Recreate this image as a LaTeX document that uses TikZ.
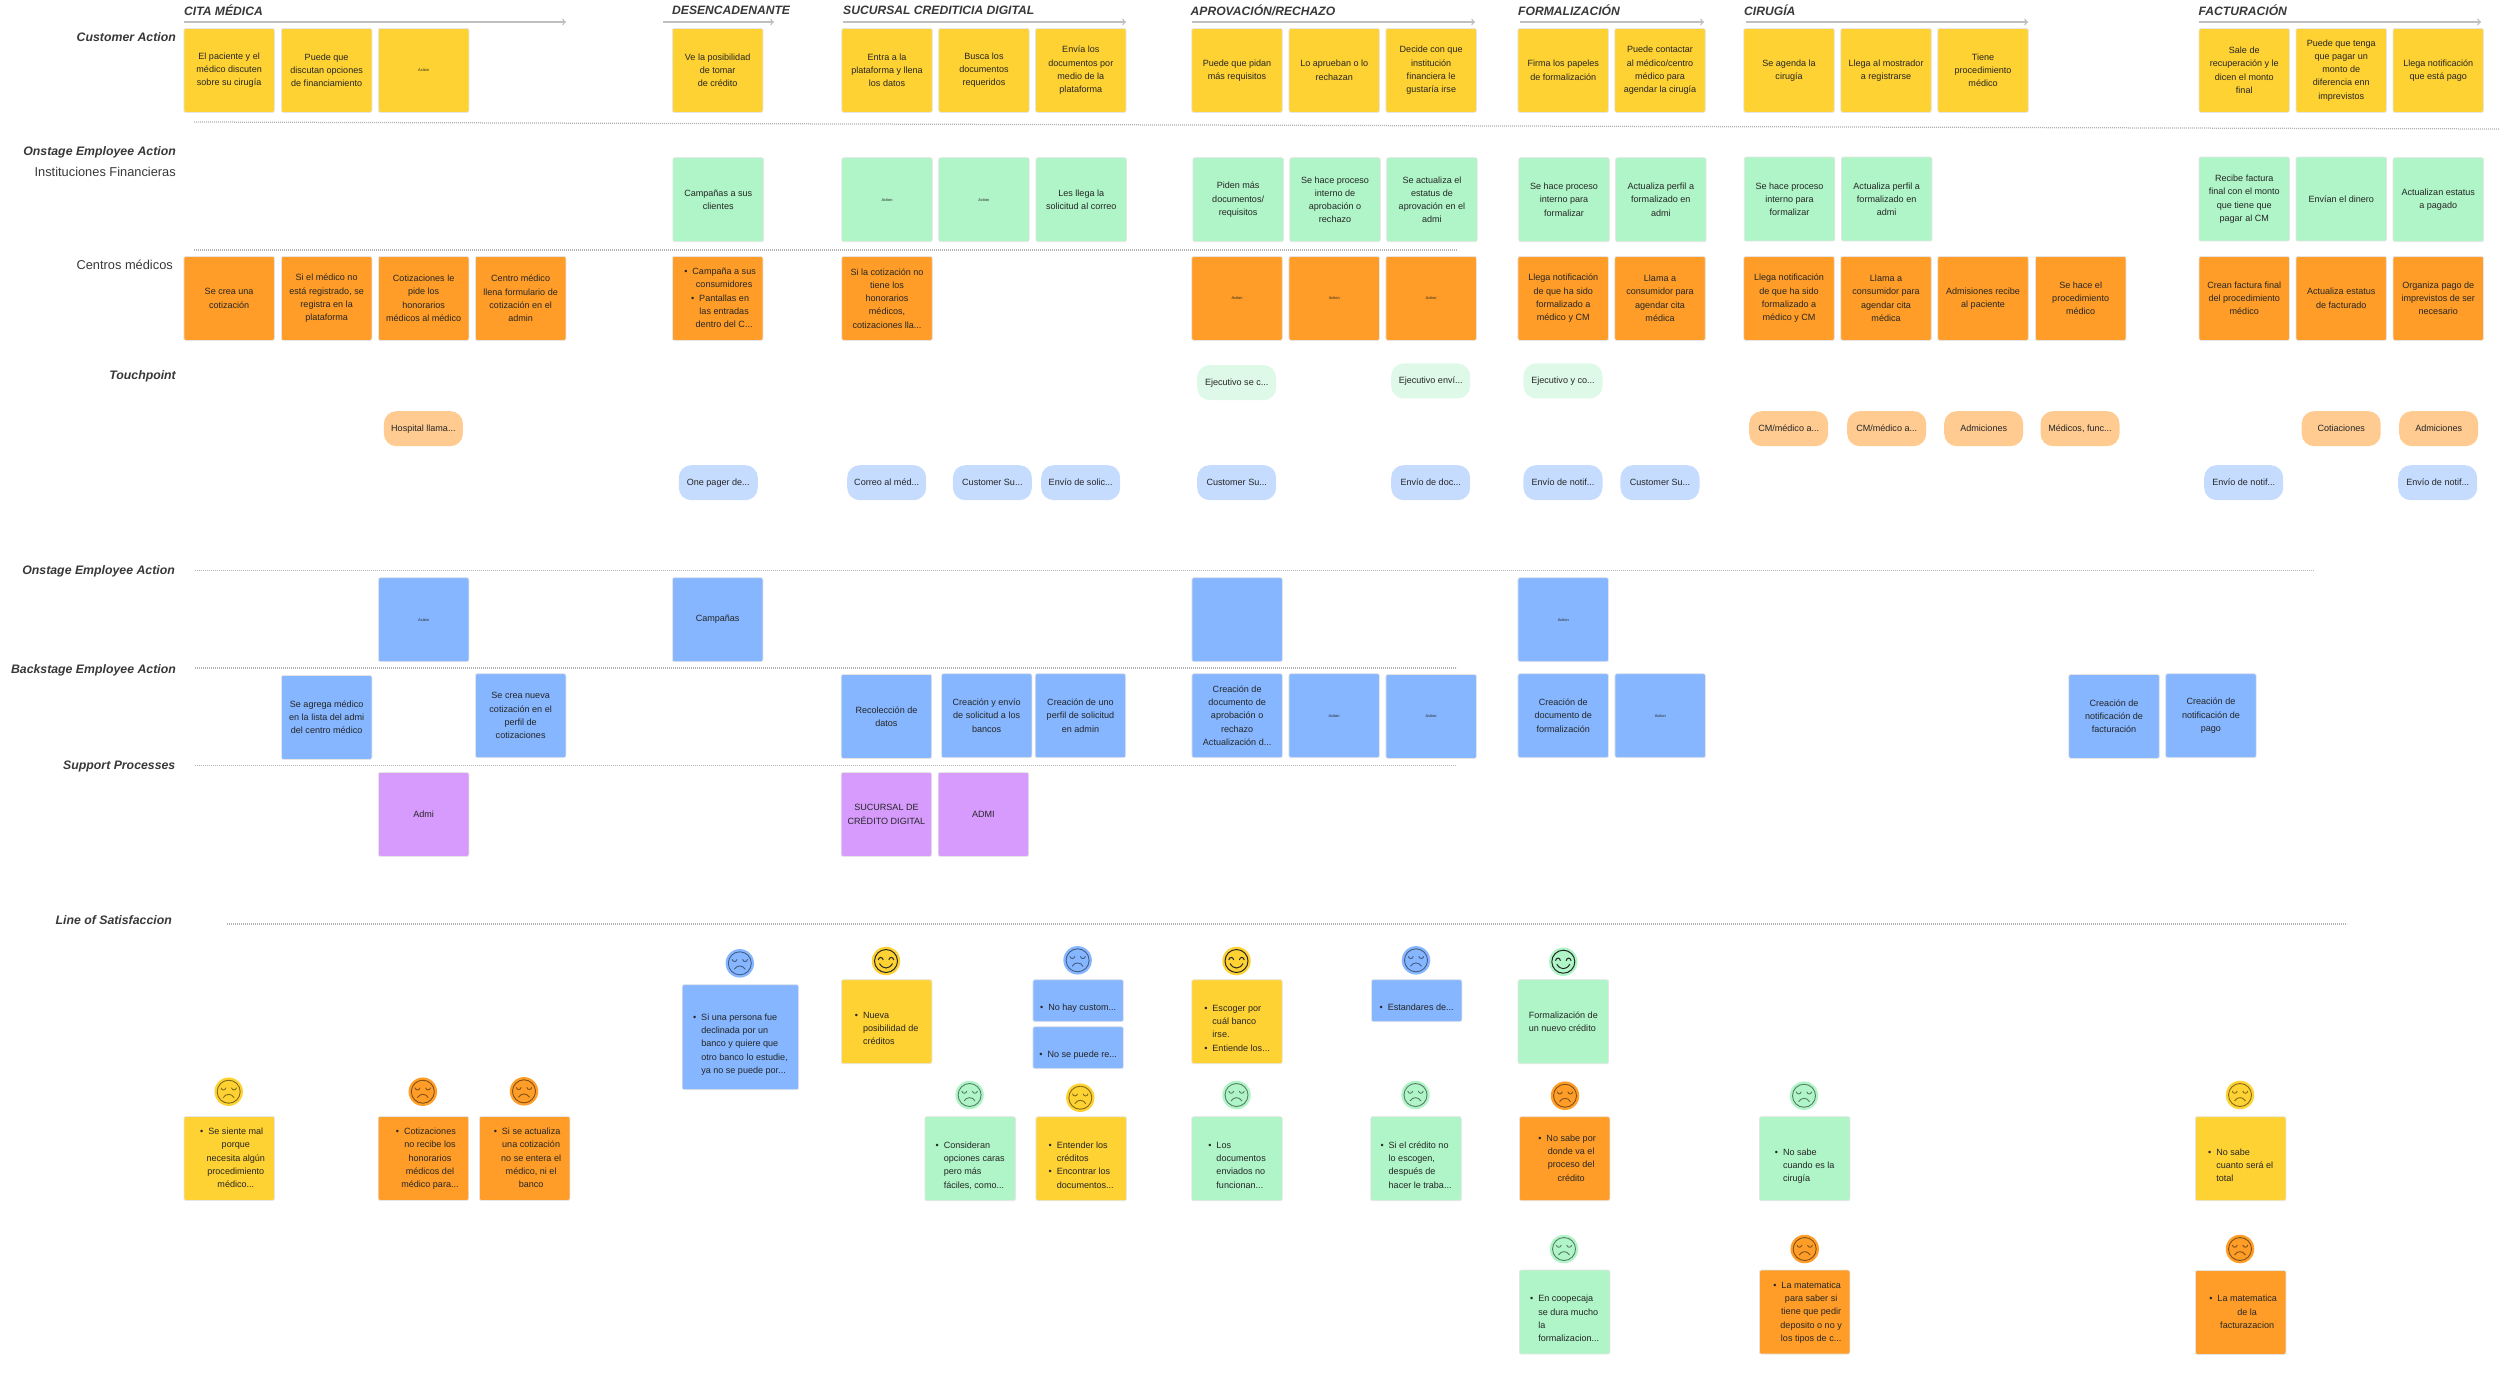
\documentclass[tikz,border=0pt]{standalone}
\usepackage{fontspec}
\setmainfont{Liberation Sans}
\usepackage{tikz}

\definecolor{ycol}{HTML}{FFD233}
\definecolor{ocol}{HTML}{FF9D28}
\definecolor{gcol}{HTML}{AFF5C7}
\definecolor{bcol}{HTML}{85B6FF}
\definecolor{pcol}{HTML}{D69BFC}
\definecolor{opil}{HTML}{FFCB91}
\definecolor{bpil}{HTML}{C6DCFF}
\definecolor{gpil}{HTML}{DEF9E7}

\newcommand{\cardfont}{\fontsize{10.3}{15.1}\selectfont}
\newcommand{\blt}{\llap{\textbullet\hspace{0.2cm}}}
\newcommand{\bulmid}[1]{\hspace*{0.52cm}\begin{tabular}{@{}c@{}}#1\end{tabular}}
\newcommand{\bulleft}[1]{\raisebox{-0.28cm}[\height][\depth]{\begin{tabular}{@{}l@{\hspace{0.2cm}}l@{}}#1\end{tabular}}}
\newcommand{\sadface}[4]{
  \node[face, fill=#4] (#1) at (#2,#3) {};
  \begin{scope}[shift={(#2,#3)}, draw=#4!50!black, line width=0.035cm]
    \draw (0,0) circle (0.46cm);
    \draw (-7.8,-4) .. controls (-7,-1) and (-3.5,-1) .. (-2.8,-4);
    \draw (2.8,-4) .. controls (3.5,-1) and (7,-1) .. (7.8,-4);
    \draw (-5.5,6) .. controls (-3,1.5) and (3,1.5) .. (5.5,6);
  \end{scope}}
\newcommand{\happyface}[4]{
  \node[face, fill=#4] (#1) at (#2,#3) {};
  \begin{scope}[shift={(#2,#3)}, draw=black!85, line width=0.04cm]
    \draw (0,0) circle (0.46cm);
    \draw (-7.8,-1) .. controls (-7,-4.5) and (-3.5,-4.5) .. (-2.8,-1);
    \draw (2.8,-1) .. controls (3.5,-4.5) and (7,-4.5) .. (7.8,-1);
    \draw (-6.5,2.5) .. controls (-3,8.5) and (3,8.5) .. (6.5,2.5);
  \end{scope}}

\tikzset{
  card/.style={anchor=north west, minimum width=3.62cm, minimum height=3.36cm, inner sep=0pt,
    rounded corners=0.08cm, draw=black!10, line width=0.03cm, align=center, text=black!85, font=\cardfont},
  ycard/.style={card, fill=ycol},
  ocard/.style={card, fill=ocol},
  gcard/.style={card, fill=gcol},
  bcard/.style={card, fill=bcol},
  pcard/.style={card, fill=pcol},
  short/.style={minimum height=1.68cm},
  action/.style={font={\fontsize{4.5}{5}\selectfont}},
  pill/.style={anchor=north west, minimum width=3.16cm, minimum height=1.4cm, inner sep=0pt,
    rounded corners=0.5cm, text=black!85, font=\cardfont},
  opill/.style={pill, fill=opil},
  bpill/.style={pill, fill=bpil},
  gpill/.style={pill, fill=gpil},
  face/.style={circle, minimum size=1.14cm, inner sep=0pt},
  rowlabel/.style={anchor=east, inner sep=0pt, text=black!78, font={\fontsize{14}{16}\selectfont\bfseries\itshape}},
  plainlabel/.style={anchor=east, inner sep=0pt, text=black!78, font={\fontsize{14.6}{16}\selectfont}},
  phase/.style={anchor=west, inner sep=0pt, text=black!78, font={\fontsize{13.8}{16}\selectfont\bfseries\itshape}},
  rowline/.style={draw=black!30, line width=0.05cm, dash pattern=on 0.04cm off 0.04cm},
  flow/.style={draw=black!25, line width=0.06cm, ->}
}

\begin{document}
\begin{tikzpicture}[x=0.04cm, y=-0.04cm]
  % one unit = one pixel of the 2500 x 1372 board
  \useasboundingbox (0,0) rectangle (2500,1372);

  % phases
  \node[phase] (pcita) at (184,10) {CITA MÉDICA};
  \node[phase] (pdes) at (672,10) {DESENCADENANTE};
  \node[phase] (psuc) at (843,10) {SUCURSAL CREDITICIA DIGITAL};
  \node[phase] (papr) at (1190.5,10) {APROVACIÓN/RECHAZO};
  \node[phase] (pfor) at (1518,10) {FORMALIZACIÓN};
  \node[phase] (pcir) at (1744,10) {CIRUGÍA};
  \node[phase] (pfac) at (2198.5,10) {FACTURACIÓN};
  \coordinate (fa1) at (183.5,22); \coordinate (fb1) at (566,22);
  \coordinate (fa2) at (663,22); \coordinate (fb2) at (774,22);
  \coordinate (fa3) at (842.5,22); \coordinate (fb3) at (1126,22);
  \coordinate (fa4) at (1192,22); \coordinate (fb4) at (1475,22);
  \coordinate (fa5) at (1519.5,22); \coordinate (fb5) at (1704,22);
  \coordinate (fa6) at (1746,22); \coordinate (fb6) at (2028,22);
  \coordinate (fa7) at (2198.5,22); \coordinate (fb7) at (2481,22);
  \foreach \n in {1,...,7} \draw[flow] (fa\n) -- (fb\n);

  % row labels
  \node[rowlabel] (lcust) at (176,37) {Customer Action};
  \node[rowlabel] (lon) at (176,152.5) {Onstage Employee Action};
  \node[plainlabel] (lfin) at (176,172) {Instituciones Financieras};
  \node[plainlabel] (lcen) at (173,265) {Centros médicos};
  \node[rowlabel] (ltou) at (176,376.5) {Touchpoint};
  \node[rowlabel] (lon2) at (175,571.5) {Onstage Employee Action};
  \node[rowlabel] (lback) at (176,670.5) {Backstage Employee Action};
  \node[rowlabel] (lsup) at (175.5,766.5) {Support Processes};
  \node[rowlabel] (lsat) at (172,920.5) {Line of Satisfaccion};

  % row lines
  \coordinate (la1) at (194,122); \coordinate (lb1) at (2500,129);
  \coordinate (la2) at (194,250); \coordinate (lb2) at (1457,250);
  \coordinate (la3) at (195,570.5); \coordinate (lb3) at (2314,570.5);
  \coordinate (la4) at (195,668); \coordinate (lb4) at (1457,668);
  \coordinate (la5) at (195,765.5); \coordinate (lb5) at (1457,765.5);
  \coordinate (la6) at (227,924); \coordinate (lb6) at (2347,924);
  \foreach \n in {1,...,6} \draw[rowline] (la\n) -- (lb\n);

  % customer action
  \node[ycard] (cust1) at (183.5,28) {El paciente y el\\médico discuten\\sobre su cirugía};
  \node[ycard] (cust2) at (281,28) {Puede que\\discutan opciones\\de financiamiento};
  \node[ycard, action] (cust3) at (378,28) {Action};
  \node[ycard] (cust4) at (672,28) {Ve la posibilidad\\de tomar\\de crédito};
  \node[ycard] (cust5) at (841.4,28) {Entra a la\\plataforma y llena\\los datos};
  \node[ycard] (cust6) at (938.3,28) {Busca los\\documentos\\requeridos};
  \node[ycard] (cust7) at (1035.2,28) {Envía los\\documentos por\\medio de la\\plataforma};
  \node[ycard] (cust8) at (1191.4,28) {Puede que pidan\\más requisitos};
  \node[ycard] (cust9) at (1288.6,28) {Lo aprueban o lo\\rechazan};
  \node[ycard] (cust10) at (1385.5,28) {Decide con que\\institución\\financiera le\\gustaría irse};
  \node[ycard] (cust11) at (1517.6,28) {Firma los papeles\\de formalización};
  \node[ycard] (cust12) at (1614.4,28) {Puede contactar\\al médico/centro\\médico para\\agendar la cirugía};
  \node[ycard] (cust13) at (1743.4,28) {Se agenda la\\cirugía};
  \node[ycard] (cust14) at (1840.4,28) {Llega al mostrador\\a registrarse};
  \node[ycard] (cust15) at (1937.4,28) {Tiene\\procedimiento\\médico};
  \node[ycard] (cust16) at (2198.6,28) {Sale de\\recuperación y le\\dicen el monto\\final};
  \node[ycard] (cust17) at (2295.6,28) {Puede que tenga\\que pagar un\\monto de\\diferencia enn\\imprevistos};
  \node[ycard] (cust18) at (2392.6,28) {Llega notificación\\que está pago};

  % instituciones financieras
  \node[gcard] (fin1) at (672.6,157.3) {Campañas a sus\\clientes};
  \node[gcard, action] (fin2) at (841.4,157.3) {Action};
  \node[gcard, action] (fin3) at (938.3,157.3) {Action};
  \node[gcard] (fin4) at (1035.6,157.3) {Les llega la\\solicitud al correo};
  \node[gcard] (fin5) at (1192.5,157.3) {Piden más\\documentos/\\requisitos};
  \node[gcard] (fin6) at (1289.4,157.3) {Se hace proceso\\interno de\\aprobación o\\rechazo};
  \node[gcard] (fin7) at (1386.3,157.3) {Se actualiza el\\estatus de\\aprovación en el\\admi};
  \node[gcard] (fin8) at (1518.4,157.3) {Se hace proceso\\interno para\\formalizar};
  \node[gcard] (fin9) at (1615.2,157.3) {Actualiza perfil a\\formalizado en\\admi};
  \node[gcard] (fin10) at (1743.9,156.7) {Se hace proceso\\interno para\\formalizar};
  \node[gcard] (fin11) at (1841,156.7) {Actualiza perfil a\\formalizado en\\admi};
  \node[gcard] (fin12) at (2198.6,156.7) {Recibe factura\\final con el monto\\que tiene que\\pagar al CM};
  \node[gcard] (fin13) at (2295.6,156.7) {Envían el dinero};
  \node[gcard] (fin14) at (2392.6,157.3) {Actualizan estatus\\a pagado};

  % centros medicos
  \node[ocard] (cen1) at (183.5,256) {Se crea una\\cotización};
  \node[ocard] (cen2) at (281,256) {Si el médico no\\está registrado, se\\registra en la\\plataforma};
  \node[ocard] (cen3) at (378,256) {Cotizaciones le\\pide los\\honorarios\\médicos al médico};
  \node[ocard] (cen4) at (475,256) {Centro médico\\llena formulario de\\cotización en el\\admin};
  \node[ocard] (cen5) at (672,256) {\bulmid{\blt Campaña a sus\\consumidores\\\blt Pantallas en\\las entradas\\dentro del C...}};
  \node[ocard] (cen6) at (841.4,256) {Si la cotización no\\tiene los\\honorarios\\médicos,\\cotizaciones lla...};
  \node[ocard, action] (cen7) at (1191.4,256) {Action};
  \node[ocard, action] (cen8) at (1288.6,256) {Action};
  \node[ocard, action] (cen9) at (1385.5,256) {Action};
  \node[ocard] (cen10) at (1517.6,256) {Llega notificación\\de que ha sido\\formalizado a\\médico y CM};
  \node[ocard] (cen11) at (1614.4,256) {Llama a\\consumidor para\\agendar cita\\médica};
  \node[ocard] (cen12) at (1743.4,256) {Llega notificación\\de que ha sido\\formalizado a\\médico y CM};
  \node[ocard] (cen13) at (1840.4,256) {Llama a\\consumidor para\\agendar cita\\médica};
  \node[ocard] (cen14) at (1937.4,256) {Admisiones recibe\\al paciente};
  \node[ocard] (cen15) at (2035,256) {Se hace el\\procedimiento\\médico};
  \node[ocard] (cen16) at (2198.6,256) {Crean factura final\\del procedimiento\\médico};
  \node[ocard] (cen17) at (2295.6,256) {Actualiza estatus\\de facturado};
  \node[ocard] (cen18) at (2392.6,256) {Organiza pago de\\imprevistos de ser\\necesario};

  % touchpoints
  \node[gpill] (tg1) at (1197,365) {Ejecutivo se c...};
  \node[gpill] (tg2) at (1391,363.3) {Ejecutivo enví...};
  \node[gpill] (tg3) at (1523.3,363.3) {Ejecutivo y co...};
  \node[opill] (to1) at (383.7,411) {Hospital llama...};
  \node[opill] (to2) at (1749,411) {CM/médico a...};
  \node[opill] (to3) at (1847,411) {CM/médico a...};
  \node[opill] (to4) at (1944,411) {Admiciones};
  \node[opill] (to5) at (2040.3,411) {Médicos, func...};
  \node[opill] (to6) at (2301.5,411) {Cotiaciones};
  \node[opill] (to7) at (2399,411) {Admiciones};
  \node[bpill] (tb1) at (678.6,465) {One pager de...};
  \node[bpill] (tb2) at (847,465) {Correo al méd...};
  \node[bpill] (tb3) at (952.7,465) {Customer Su...};
  \node[bpill] (tb4) at (1041,465) {Envío de solic...};
  \node[bpill] (tb5) at (1197,465) {Customer Su...};
  \node[bpill] (tb6) at (1391,465) {Envío de doc...};
  \node[bpill] (tb7) at (1523.3,465) {Envío de notif...};
  \node[bpill] (tb8) at (1620.3,465) {Customer Su...};
  \node[bpill] (tb9) at (2204,465) {Envío de notif...};
  \node[bpill] (tb10) at (2398,465) {Envío de notif...};

  % onstage
  \node[bcard, action] (on1) at (378,577.3) {Action};
  \node[bcard] (on2) at (672,577.3) {Campañas};
  \node[bcard] (on3) at (1191.5,577.3) {};
  \node[bcard, action] (on4) at (1517.6,577.3) {Action};

  % backstage
  \node[bcard] (bk1) at (281,675) {Se agrega médico\\en la lista del admi\\del centro médico};
  \node[bcard] (bk2) at (475,673.3) {Se crea nueva\\cotización en el\\perfil de\\cotizaciones};
  \node[bcard] (bk3) at (840.8,674) {Recolección de\\datos};
  \node[bcard] (bk4) at (941,673.3) {Creación y envío\\de solicitud a los\\bancos};
  \node[bcard] (bk5) at (1034.8,673.3) {Creación de uno\\perfil de solicitud\\en admin};
  \node[bcard] (bk6) at (1191.5,673.3) {Creación de\\documento de\\aprobación o\\rechazo\\Actualización d...};
  \node[bcard, action] (bk7) at (1288.5,673.3) {Action};
  \node[bcard, action] (bk8) at (1385.5,674) {Action};
  \node[bcard] (bk9) at (1517.6,673.3) {Creación de\\documento de\\formalización};
  \node[bcard, action] (bk10) at (1614.6,673.3) {Action};
  \node[bcard] (bk11) at (2068.4,674) {Creación de\\notificación de\\facturación};
  \node[bcard] (bk12) at (2165.3,673.3) {Creación de\\notificación de\\pago};

  % support
  \node[pcard] (sup1) at (378,772) {Admi};
  \node[pcard] (sup2) at (840.8,772) {SUCURSAL DE\\CRÉDITO DIGITAL};
  \node[pcard] (sup3) at (937.8,772) {ADMI};

  % satisfaction
  \sadface{fc1}{228.7}{1091.7}{ycol}
  \node[ycard] (sat1) at (183.7,1116) {\bulmid{\blt Se siente mal\\porque\\necesita algún\\procedimiento\\médico...}};
  \sadface{fc2}{422.8}{1091.7}{ocol}
  \node[ocard] (sat2) at (377.8,1116) {\bulmid{\blt Cotizaciones\\no recibe los\\honorarios\\médicos del\\médico para...}};
  \sadface{fc3}{524}{1091.3}{ocol}
  \node[ocard] (sat3) at (479,1116) {\bulmid{\blt Si se actualiza\\una cotización\\no se entera el\\médico, ni el\\banco}};
  \sadface{fc4}{739.8}{963.3}{bcol}
  \node[bcard, minimum width=4.66cm, minimum height=4.2cm] (sat4) at (681.8,984.3) {\bulleft{\textbullet & Si una persona fue\\ & declinada por un\\ & banco y quiere que\\ & otro banco lo estudie,\\ & ya no se puede por...}};
  \happyface{fc5}{886}{961}{ycol}
  \node[ycard] (sat5) at (841,979.3) {\bulleft{\textbullet & Nueva\\ & posibilidad de\\ & créditos}};
  \sadface{fc6}{1077.6}{960.3}{bcol}
  \node[bcard, short] (sat6) at (1032.5,979.3) {\bulleft{\textbullet & No hay custom...}};
  \node[bcard, short] (sat7) at (1032.5,1026.3) {\bulleft{\textbullet & No se puede re...}};
  \happyface{fc8}{1236.5}{961}{ycol}
  \node[ycard] (sat8) at (1191.4,979.3) {\bulleft{\textbullet & Escoger por\\ & cuál banco\\ & irse.\\\textbullet & Entiende los...}};
  \sadface{fc9}{1416}{960.3}{bcol}
  \node[bcard, short] (sat9) at (1371,979.3) {\bulleft{\textbullet & Estandares de...}};
  \sadface{fc10}{969.6}{1095}{gcol}
  \node[gcard] (sat10) at (924.5,1116.3) {\bulleft{\textbullet & Consideran\\ & opciones caras\\ & pero más\\ & fáciles, como...}};
  \sadface{fc11}{1080.3}{1097.7}{ycol}
  \node[ycard] (sat11) at (1035.6,1116.3) {\bulleft{\textbullet & Entender los\\ & créditos\\\textbullet & Encontrar los\\ & documentos...}};
  \sadface{fc12}{1236.5}{1095}{gcol}
  \node[gcard] (sat12) at (1191.4,1116.3) {\bulleft{\textbullet & Los\\ & documentos\\ & enviados no\\ & funcionan...}};
  \sadface{fc13}{1415.5}{1095}{gcol}
  \node[gcard] (sat13) at (1370.4,1116.3) {\bulleft{\textbullet & Si el crédito no\\ & lo escogen,\\ & después de\\ & hacer le traba...}};
  \happyface{fc14}{1563.3}{961.7}{gcol}
  \node[gcard, align=left] (sat14) at (1517.7,979.3) {Formalización de\\un nuevo crédito};
  \sadface{fc15}{1565}{1095.7}{ocol}
  \node[ocard] (sat15) at (1519,1116.3) {\bulmid{\blt No sabe por\\donde va el\\proceso del\\crédito}};
  \sadface{fc16}{1564}{1249}{gcol}
  \node[gcard] (sat16) at (1519,1269.7) {\bulleft{\textbullet & En coopecaja\\ & se dura mucho\\ & la\\ & formalizacion...}};
  \sadface{fc17}{1804}{1095.7}{gcol}
  \node[gcard] (sat17) at (1759,1116.3) {\bulleft{\textbullet & No sabe\\ & cuando es la\\ & cirugía}};
  \sadface{fc18}{1804.7}{1249}{ocol}
  \node[ocard] (sat18) at (1759,1269.7) {\bulmid{\blt La matematica\\para saber si\\tiene que pedir\\deposito o no y\\los tipos de c...}};
  \sadface{fc19}{2240}{1095}{ycol}
  \node[ycard] (sat19) at (2195,1116.3) {\bulleft{\textbullet & No sabe\\ & cuanto será el\\ & total}};
  \sadface{fc20}{2240}{1249}{ocol}
  \node[ocard] (sat20) at (2195,1270) {\bulmid{\blt La matematica\\de la\\facturazacion}};
\end{tikzpicture}
\end{document}
